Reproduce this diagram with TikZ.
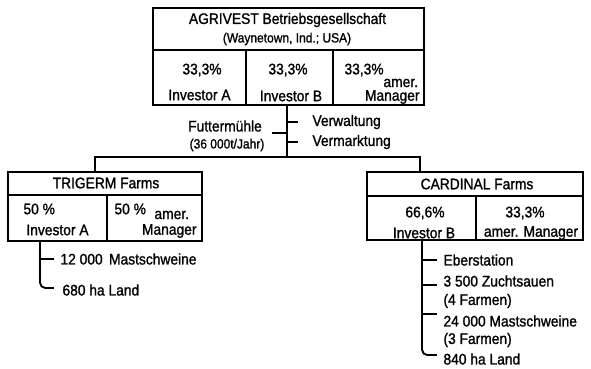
\documentclass[tikz,border=0pt]{standalone}
\usepackage{fontspec}
\setmainfont{Liberation Sans}[FakeStretch=0.9,FakeBold=1.2]
\tikzset{every picture/.style={line width=0.75pt}}
\tikzset{
  cell/.style={draw, line width=1.3pt, inner sep=0pt, outer sep=0pt},
  txt/.style={inner sep=0pt, font=\fontsize{11.5}{13}\selectfont},
  smalltxt/.style={inner sep=0pt, font=\fontsize{10}{12}\selectfont},
  link/.style={line width=1.4pt, line cap=rect},
}
\begin{document}
\begin{tikzpicture}[x=0.75pt,y=0.75pt,yscale=-1,xscale=1]
\useasboundingbox (0,0) rectangle (591,368);

%Shape: Rectangle (AGRIVEST)
\node[cell, minimum width=203.25pt, minimum height=31.5pt] (agri) at (288.5,29) {};
\node[cell, minimum width=69.75pt, minimum height=41.25pt] (agA) at (199.5,77.5) {};
\node[cell, minimum width=65.25pt, minimum height=41.25pt] (agB) at (289.5,77.5) {};
\node[cell, minimum width=68.25pt, minimum height=41.25pt] (agM) at (378.5,77.5) {};
\draw [line width=2pt] (agri.north west) rectangle (agM.south east);

%Text
\node[txt] (agname) at (287.5,20) {AGRIVEST Betriebsgesellschaft};
\node[smalltxt] (agplace) at (287,39) {(Waynetown, Ind.; USA)};
\node[txt] (agApct) at (202,70) {33,3\%};
\node[txt] (agAname) at (199.5,95) {Investor A};
\node[txt] (agBpct) at (288,70) {33,3\%};
\node[txt] (agBname) at (291,96) {Investor B};
\node[txt, anchor=west] (agMpct) at (344,70) {33,3\%};
\node[txt, anchor=west] (agMamer) at (383,83) {amer.};
\node[txt, anchor=east] (agMname) at (420,97) {Manager};

%Text (Futtermuehle etc.)
\node[txt] (mill) at (225,126) {Futtermühle};
\node[smalltxt] (millcap) at (227,145) {(36 000t/Jahr)};
\node[txt, anchor=west] (admin) at (312,122) {Verwaltung};
\node[txt, anchor=west] (market) at (312,142) {Vermarktung};

%Shape: Rectangle (TRIGERM)
\node[cell, minimum width=145.5pt, minimum height=17.25pt] (trig) at (105,183.5) {};
\node[cell, minimum width=74.25pt, minimum height=34.5pt] (trigA) at (57.5,218) {};
\node[cell, minimum width=71.25pt, minimum height=34.5pt] (trigM) at (154.5,218) {};
\node[txt] (trigname) at (106,183) {TRIGERM Farms};
\node[txt, anchor=west] (trigApct) at (23,209) {50 \%};
\node[txt] (trigAname) at (57.5,230) {Investor A};
\node[txt, anchor=west] (trigMpct) at (114,209) {50 \%};
\node[txt, anchor=west] (trigMamer) at (154,215) {amer.};
\node[txt, anchor=east] (trigMname) at (197,231) {Manager};

%Shape: Rectangle (CARDINAL)
\node[cell, minimum width=162pt, minimum height=18pt] (card) at (475,184) {};
\node[cell, minimum width=81.75pt, minimum height=33pt] (cardB) at (421.5,218) {};
\node[cell, minimum width=80.25pt, minimum height=33pt] (cardM) at (529.5,218) {};
\node[txt] (cardname) at (477,184) {CARDINAL Farms};
\node[txt] (cardBpct) at (425,213) {66,6\%};
\node[txt] (cardBname) at (424,233) {Investor B};
\node[txt] (cardMpct) at (525,213) {33,3\%};
\node[txt] (cardMname) at (531,233) {amer. Manager};

%Text (lists)
\node[txt, anchor=west] (pigsA) at (60,259) {12 000 \,Mastschweine};
\node[txt, anchor=west] (landA) at (62,290) {680 ha Land};
\node[txt, anchor=west] (boar) at (443,260) {Eberstation};
\node[txt, anchor=west] (sows) at (443,281) {3 500 Zuchtsauen};
\node[txt, anchor=west] (sowsfarms) at (443,301) {(4 Farmen)};
\node[txt, anchor=west] (pigsB) at (443,321) {24 000 Mastschweine};
\node[txt, anchor=west] (pigsfarms) at (443,340) {(3 Farmen)};
\node[txt, anchor=west] (landB) at (443,359) {840 ha Land};

%Straight Lines (main trunk)
\coordinate (bus) at (287,157);
\coordinate (busL) at (95,157);
\coordinate (busR) at (420,157);
\draw [link] (agB.south -| bus) -- (bus);
\draw [link] (trig.north -| busL) -- (busL) -- (busR) -- (card.north -| busR);
\draw [link] (bus |- 0,133) -- ++(-14,0);
\draw [link] (bus |- admin.west) -- ++(10,0);
\draw [link] (bus |- market.west) -- ++(10,0);

%Straight Lines (TRIGERM list)
\coordinate (trigroot) at (40,241);
\draw [link] (trigroot |- pigsA.west) -- ++(13,0);
\draw [link, rounded corners=4] (trigroot) -- (trigroot |- 0,288) -- ++(13,0);

%Straight Lines (CARDINAL list)
\coordinate (cardroot) at (422,240);
\draw [link] (cardroot |- boar.west) -- ++(14,0);
\draw [link] (cardroot |- 0,285) -- ++(14,0);
\draw [link] (cardroot |- 0,314) -- ++(14,0);
\draw [link, rounded corners=4] (cardroot) -- (cardroot |- 0,355) -- ++(14,0);

\end{tikzpicture}
\end{document}
